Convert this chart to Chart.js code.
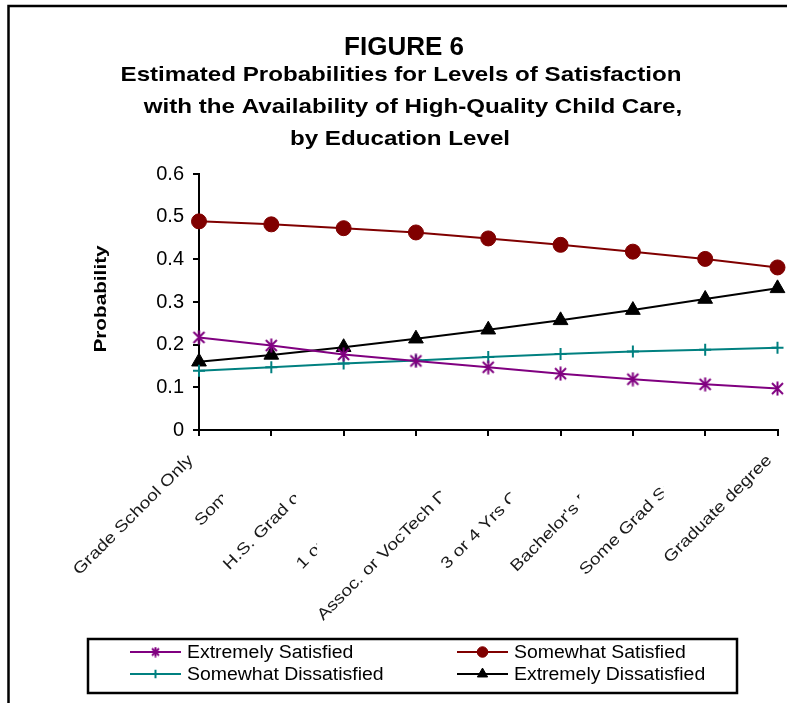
<!DOCTYPE html>
<html>
<head>
<meta charset="utf-8">
<script src="https://cdn.jsdelivr.net/npm/chart.js@4/dist/chart.umd.min.js"></script>
<style>
  html, body { margin: 0; padding: 0; background: #fff; }
  canvas { display: block; }
</style>
</head>
<body>
<canvas id="chart" width="787" height="703"></canvas>
<script>
// Education levels along the horizontal axis
const categories = [
  'Grade School Only',
  'Some H.S.',
  'H.S. Grad or GED',
  '1 or 2 Yrs College',
  'Assoc. or VocTech Degree',
  '3 or 4 Yrs College',
  "Bachelor's Degree",
  'Some Grad School',
  'Graduate degree'
];

// Estimated probabilities for each satisfaction level
const extremelySatisfied    = [0.217, 0.198, 0.177, 0.162, 0.147, 0.132, 0.119, 0.107, 0.097];
const somewhatSatisfied     = [0.489, 0.482, 0.473, 0.463, 0.449, 0.434, 0.418, 0.401, 0.381];
const somewhatDissatisfied  = [0.139, 0.147, 0.156, 0.163, 0.171, 0.178, 0.184, 0.188, 0.193];
const extremelyDissatisfied = [0.160, 0.176, 0.194, 0.214, 0.235, 0.257, 0.281, 0.307, 0.332];

const seriesNames = ['Extremely Satisfied', 'Somewhat Satisfied', 'Somewhat Dissatisfied', 'Extremely Dissatisfied'];
const yTickLabels = ['0', '0.1', '0.2', '0.3', '0.4', '0.5', '0.6'];

const titleLines = [
  'FIGURE 6',
  'Estimated Probabilities for Levels of Satisfaction',
  'with the Availability of High-Quality Child Care,',
  'by Education Level'
];
const yAxisTitle = 'Probability';

const FONT = '"Liberation Sans", Arial, Helvetica, sans-serif';

// Asterisk marker: an X crossed by a vertical bar
function makeAsterisk(color, size) {
  const cv = document.createElement('canvas');
  cv.width = size; cv.height = size;
  const g = cv.getContext('2d');
  g.strokeStyle = color;
  g.lineWidth = 2;
  g.lineCap = 'butt';
  const m = 2, s = size;
  g.beginPath();
  g.moveTo(m, m); g.lineTo(s - m, s - m);
  g.moveTo(s - m, m); g.lineTo(m, s - m);
  g.moveTo(s / 2, 0.5); g.lineTo(s / 2, s - 0.5);
  g.stroke();
  return cv;
}
const asteriskBig = makeAsterisk('#800080', 15);
const asteriskSmall = makeAsterisk('#800080', 11);

// Draw text widened horizontally along its own direction
function drawStretched(ctx, text, x, y, sx, rot) {
  ctx.save();
  ctx.translate(x, y);
  if (rot) ctx.rotate(rot);
  ctx.scale(sx, 1);
  ctx.fillText(text, 0, 0);
  ctx.restore();
}

const pagePlugin = {
  id: 'page',
  beforeDraw(chart) {
    const ctx = chart.ctx;
    ctx.save();
    ctx.fillStyle = '#fff';
    ctx.fillRect(0, 0, chart.width, chart.height);
    ctx.strokeStyle = '#000';
    ctx.lineWidth = 2.5;
    ctx.beginPath();
    ctx.moveTo(8.5, chart.height);
    ctx.lineTo(8.5, 6);
    ctx.lineTo(chart.width, 6);
    ctx.stroke();
    ctx.restore();
  },
  afterDraw(chart) {
    const ctx = chart.ctx;
    ctx.save();
    ctx.fillStyle = '#000';
    ctx.textAlign = 'center';
    ctx.textBaseline = 'alphabetic';
    // headline
    ctx.font = `bold 26px ${FONT}`;
    drawStretched(ctx, titleLines[0], 404, 55, 1.0);
    ctx.font = `bold 21px ${FONT}`;
    drawStretched(ctx, titleLines[1], 401, 81, 1.15);
    drawStretched(ctx, titleLines[2], 413, 113, 1.15);
    drawStretched(ctx, titleLines[3], 400, 145, 1.15);
    // vertical axis title
    ctx.font = `bold 17px ${FONT}`;
    ctx.textBaseline = 'middle';
    drawStretched(ctx, yAxisTitle, 101, 299, 1.22, -Math.PI / 2);
    ctx.restore();
  }
};

// Slanted category labels; each label's white box hides the tail of the one before it
const slantedLabelsPlugin = {
  id: 'slantedLabels',
  afterDraw(chart) {
    const ctx = chart.ctx;
    const xs = chart.scales.x;
    const base = chart.chartArea.bottom;
    const size = 16, sx = 1.2;
    const c = Math.SQRT1_2;
    ctx.save();
    ctx.font = `${size}px ${FONT}`;
    ctx.textAlign = 'right';
    ctx.textBaseline = 'alphabetic';
    categories.forEach((lab, i) => {
      const ox = xs.getPixelForValue(i) - 5;
      const oy = base + 31;
      const w = ctx.measureText(lab).width * sx;
      const asc = size * 0.55, desc = size * 0.25;
      const minX = -c * (w + asc), maxX = c * desc;
      const top = base + 9;
      const maxY = c * (w + desc);
      ctx.fillStyle = '#fff';
      ctx.fillRect(ox + minX, top, maxX - minX, oy + maxY - top);
      ctx.fillStyle = '#1a1a1a';
      drawStretched(ctx, lab, ox, oy, sx, -Math.PI / 4);
    });
    ctx.restore();
  }
};

// Two-column boxed legend below the plot
const gridLegendPlugin = {
  id: 'gridLegend',
  afterDraw(chart) {
    const ctx = chart.ctx;
    const cols = [130, 457];
    const rows = [652, 674];
    const order = [0, 1, 2, 3];
    ctx.save();
    ctx.strokeStyle = '#000';
    ctx.lineWidth = 2.5;
    ctx.strokeRect(88, 639, 649, 54);
    order.forEach((di, k) => {
      const ds = chart.data.datasets[di];
      const x = cols[k % 2], y = rows[Math.floor(k / 2)];
      ctx.strokeStyle = ds.borderColor;
      ctx.lineWidth = 2;
      ctx.beginPath();
      ctx.moveTo(x, y); ctx.lineTo(x + 51, y);
      ctx.stroke();
      ctx.fillStyle = ds.pointBackgroundColor;
      ctx.strokeStyle = ds.pointBorderColor;
      ctx.lineWidth = ds.pointBorderWidth;
      Chart.helpers.drawPoint(ctx, {
        pointStyle: ds.legendPointStyle || ds.pointStyle,
        radius: ds.pointRadius * 0.7,
        borderWidth: ds.pointBorderWidth,
        rotation: 0
      }, x + 25.5, y);
      ctx.fillStyle = '#000';
      ctx.font = `18px ${FONT}`;
      ctx.textAlign = 'left';
      ctx.textBaseline = 'middle';
      drawStretched(ctx, ds.label, x + 57, y + 1, 1.08);
    });
    ctx.restore();
  }
};

new Chart(document.getElementById('chart'), {
  type: 'line',
  data: {
    labels: categories,
    datasets: [
      {
        label: seriesNames[0],
        data: extremelySatisfied,
        borderColor: '#800080',
        borderWidth: 2,
        pointStyle: asteriskBig,
        legendPointStyle: asteriskSmall,
        pointRadius: 7,
        pointBackgroundColor: '#800080',
        pointBorderColor: '#800080',
        pointBorderWidth: 2,
        clip: false,
        tension: 0
      },
      {
        label: seriesNames[1],
        data: somewhatSatisfied,
        borderColor: '#800000',
        borderWidth: 2,
        pointStyle: 'circle',
        pointRadius: 7.5,
        pointBackgroundColor: '#800000',
        pointBorderColor: '#800000',
        pointBorderWidth: 1,
        clip: false,
        tension: 0
      },
      {
        label: seriesNames[2],
        data: somewhatDissatisfied,
        borderColor: '#008080',
        borderWidth: 2,
        pointStyle: 'cross',
        pointRadius: 6,
        pointBackgroundColor: '#008080',
        pointBorderColor: '#008080',
        pointBorderWidth: 2,
        clip: false,
        tension: 0
      },
      {
        label: seriesNames[3],
        data: extremelyDissatisfied,
        borderColor: '#000000',
        borderWidth: 2,
        pointStyle: 'triangle',
        pointRadius: 8.5,
        pointBackgroundColor: '#000000',
        pointBorderColor: '#000000',
        pointBorderWidth: 1,
        clip: false,
        tension: 0
      }
    ]
  },
  options: {
    responsive: false,
    animation: false,
    events: [],
    layout: { padding: { left: 0, right: 9.5, top: 174, bottom: 265 } },
    plugins: {
      legend: { display: false },
      title: { display: false },
      tooltip: { enabled: false }
    },
    scales: {
      x: {
        type: 'category',
        offset: false,
        grid: { display: true, drawOnChartArea: false, drawTicks: true, tickLength: 6, color: '#000', lineWidth: 2 },
        border: { display: true, color: '#000', width: 2 },
        ticks: { display: false },
        afterFit(scale) { scale.height = 8; }
      },
      y: {
        min: 0,
        max: 0.6,
        grid: { display: true, drawOnChartArea: false, drawTicks: true, tickLength: 6, color: '#000', lineWidth: 2 },
        border: { display: true, color: '#000', width: 2 },
        ticks: {
          stepSize: 0.1,
          padding: 9,
          color: '#000',
          font: { family: FONT, size: 20 },
          callback: (value, index) => yTickLabels[index]
        },
        afterFit(scale) { scale.width = 199; }
      }
    }
  },
  plugins: [pagePlugin, slantedLabelsPlugin, gridLegendPlugin]
});
</script>
</body>
</html>
